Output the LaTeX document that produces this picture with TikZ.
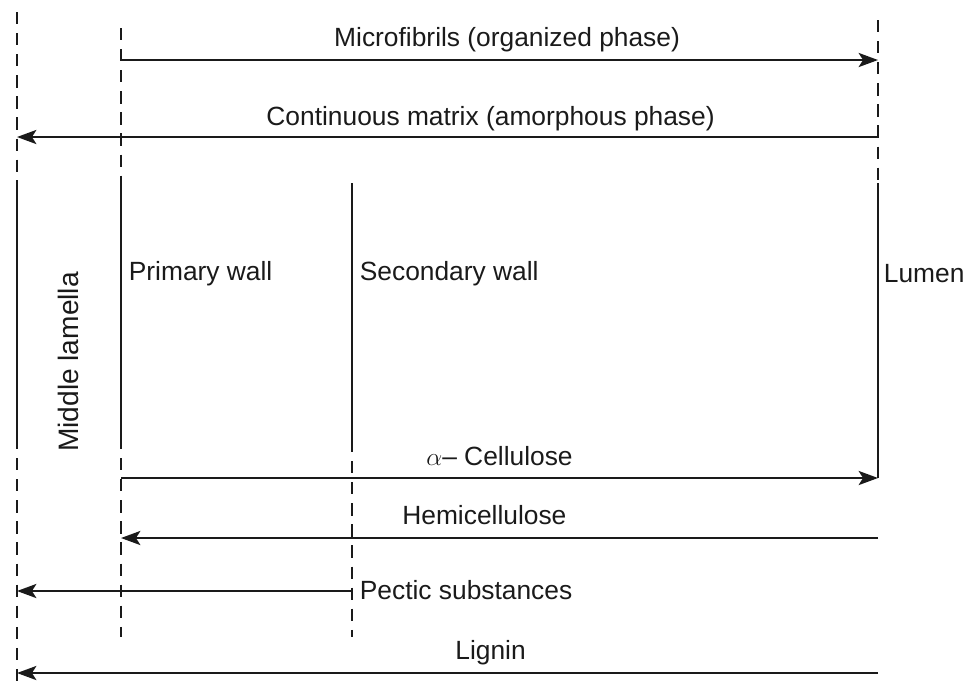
\documentclass[tikz,border=0pt]{standalone}
\usepackage{fontspec}
\setmainfont{Liberation Sans}
\usepackage{amsmath}
\usepackage{tikz}
\usetikzlibrary{arrows.meta,positioning,calc}
\definecolor{ink}{HTML}{1A1A1A}

\begin{document}
\begin{tikzpicture}[
        x=0.02cm, y=-0.02cm,
        wall/.style={ink, line width=1.4pt},
        bound/.style={wall, dash pattern=on 7pt off 5pt},
        flow/.style={-{Stealth[length=11pt, width=8pt, inset=2.5pt]}, ink, line width=1.4pt},
        lbl/.style={font=\fontsize{15}{17}\selectfont, text=ink, inner sep=2pt},
        layer/.style={lbl, anchor=west}
    ]
        \useasboundingbox (0,0) rectangle (969,681);

        % wall boundaries
        \coordinate (ml1) at (17,12);   \coordinate (ml2) at (17,180);
        \coordinate (ml3) at (17,437);  \coordinate (ml4) at (17,681);
        \coordinate (pw1) at (121,28);  \coordinate (pw2) at (121,180);
        \coordinate (pw3) at (121,437); \coordinate (pw4) at (121,637);
        \coordinate (sw1) at (352,183); \coordinate (sw2) at (352,440);
        \coordinate (sw3) at (352,637);
        \coordinate (lu1) at (878,20);  \coordinate (lu2) at (878,183);
        \coordinate (lu3) at (878,478);

        \draw[bound] (ml1) -- (ml2);
        \draw[wall]  (ml2) -- (ml3);
        \draw[bound] (ml3) -- (ml4);
        \draw[bound] (pw1) -- (pw2);
        \draw[wall]  (pw2) -- (pw3);
        \draw[bound] (pw3) -- (pw4);
        \draw[wall]  (sw1) -- (sw2);
        \draw[bound] (sw2) -- (sw3);
        \draw[bound] (lu1) -- (lu2);
        \draw[wall]  (lu2) -- (lu3);

        % layer names
        \node[layer] (prim) at (125,274) {Primary wall};
        \node[layer] (sec) at (356,274) {Secondary wall};
        \node[layer] (lum) at (880,274) {Lumen};
        \node[lbl, rotate=90, font=\fontsize{16}{18}\selectfont] (midl) at (68,362) {Middle lamella};

        % phases
        \coordinate (mf-s) at (121,60);  \coordinate (mf-e) at (878,60);
        \coordinate (cm-s) at (878,137); \coordinate (cm-e) at (17,137);
        \draw[flow] (mf-s) -- (mf-e) node[lbl, pos=0.51, above=2pt] (mf) {Microfibrils (organized phase)};
        \draw[flow] (cm-s) -- (cm-e) node[lbl, pos=0.45, above=1pt] (cm) {Continuous matrix (amorphous phase)};

        % constituents
        \coordinate (ac-s) at (121,478); \coordinate (ac-e) at (878,478);
        \coordinate (hc-s) at (878,538); \coordinate (hc-e) at (121,538);
        \coordinate (ps-s) at (352,591); \coordinate (ps-e) at (17,591);
        \coordinate (lg-s) at (878,673); \coordinate (lg-e) at (17,673);
        \draw[flow] (ac-s) -- (ac-e) node[lbl, pos=0.5, above=4pt] (ac) {$\alpha$-- Cellulose};
        \draw[flow] (hc-s) -- (hc-e) node[lbl, pos=0.52, above=5pt] (hc) {Hemicellulose};
        \draw[flow] (ps-s) -- (ps-e);
        \node[layer] (ps) at (356,590) {Pectic substances};
        \draw[flow] (lg-s) -- (lg-e) node[lbl, pos=0.45, above=2pt] (lg) {Lignin};
    \end{tikzpicture}
\end{document}
